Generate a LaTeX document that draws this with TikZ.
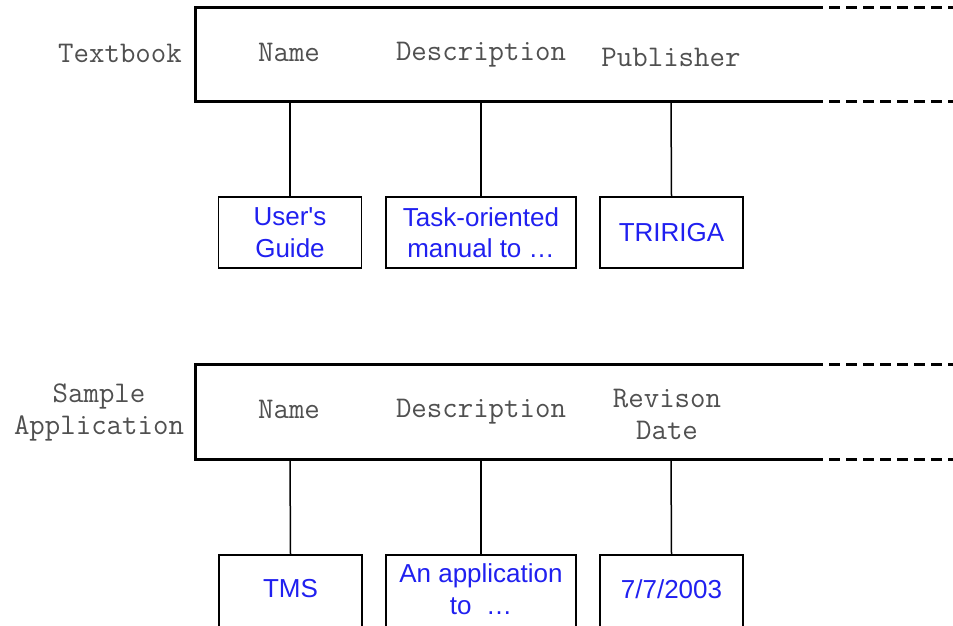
\documentclass[tikz,border=0pt]{standalone}
\usepackage{fontspec}
\setmainfont{Liberation Sans}
\newfontfamily\valfont{Liberation Sans}
\definecolor{lblgray}{HTML}{505050}
\definecolor{valblue}{HTML}{2020F0}
\begin{document}
\begin{tikzpicture}[x=1pt,y=-1pt,
  reclabel/.style={font=\ttfamily\fontsize{30}{32}\selectfont, text=lblgray, align=center, inner sep=0pt},
  recline/.style={line width=3pt},
  recdash/.style={line width=3pt, dash pattern=on 11pt off 6pt},
  conn/.style={line width=1.5pt},
  valbox/.style={draw, line width=1.5pt, minimum width=143pt, minimum height=71pt, inner sep=0pt},
  valtext/.style={font=\valfont\fontsize{26}{31.5}\selectfont, text=valblue, align=center, inner sep=0pt}
]
\useasboundingbox (0,0) rectangle (953,625);
\fill[white] (0,0) rectangle (953,625);

% ---------- Textbook record ----------
\coordinate (t-tl) at (195,7);
\coordinate (t-bl) at (195,101);
\coordinate (t-tm) at (812,7);
\coordinate (t-bm) at (812,101);
\coordinate (t-te) at (953,7);
\coordinate (t-be) at (953,101);
\draw[recline, line join=miter] (t-tm) -- (t-tl) -- (t-bl) -- (t-bm);
\draw[recdash] (t-tm) -- (t-te);
\draw[recdash] (t-bm) -- (t-be);

\node[reclabel, anchor=east] (textbook) at (182,53) {Textbook};
\node[reclabel] (t-name) at (289,52) {Name};
\node[reclabel] (t-desc) at (481,55) {Description};
\node[reclabel] (t-pub) at (671,57) {Publisher};

\coordinate (t-c1) at (290,101);
\coordinate (t-c2) at (481,101);
\coordinate (t-c3) at (671,101);

\node[valbox, valtext] (t-v1) at (290,232.5) {User's\\Guide};
\node[valbox, valtext, minimum width=190pt] (t-v2) at (481,232.5) {Task-oriented\\manual to \dots};
\node[valbox, valtext] (t-v3) at (671.5,232.5) {TRIRIGA};

\draw[conn] (t-c1) -- (t-v1.north);
\draw[conn] (t-c2) -- (t-v2.north);
\draw[conn] (t-c3) -- (t-v3.north);

% ---------- Sample Application record ----------
\coordinate (s-tl) at (195,364);
\coordinate (s-bl) at (195,459);
\coordinate (s-tm) at (812,364);
\coordinate (s-bm) at (812,459);
\coordinate (s-te) at (953,364);
\coordinate (s-be) at (953,459);
\draw[recline, line join=miter] (s-tm) -- (s-tl) -- (s-bl) -- (s-bm);
\draw[recdash] (s-tm) -- (s-te);
\draw[recdash] (s-bm) -- (s-be);

\node[reclabel] (sample) at (99,412) {Sample\\Application};
\node[reclabel] (s-name) at (289,409) {Name};
\node[reclabel] (s-desc) at (481,412) {Description};
\node[reclabel] (s-rev) at (667,414) {Revison\\Date};

\coordinate (s-c1) at (290,459);
\coordinate (s-c2) at (481,459);
\coordinate (s-c3) at (671,459);

\node[valbox, minimum height=142pt, anchor=north] (s-v1) at (290.5,554) {};
\node[valbox, minimum height=142pt, minimum width=190pt, anchor=north] (s-v2) at (481,554) {};
\node[valbox, minimum height=142pt, anchor=north] (s-v3) at (671.5,554) {};
\node[valtext] (s-t1) at (290.5,589) {TMS};
\node[valtext] (s-t2) at (481,589) {An application\\to \ \dots};
\node[valtext] (s-t3) at (671.5,589) {7/7/2003};

\draw[conn] (s-c1) -- (s-v1.north);
\draw[conn] (s-c2) -- (s-v2.north);
\draw[conn] (s-c3) -- (s-v3.north);
\end{tikzpicture}
\end{document}
